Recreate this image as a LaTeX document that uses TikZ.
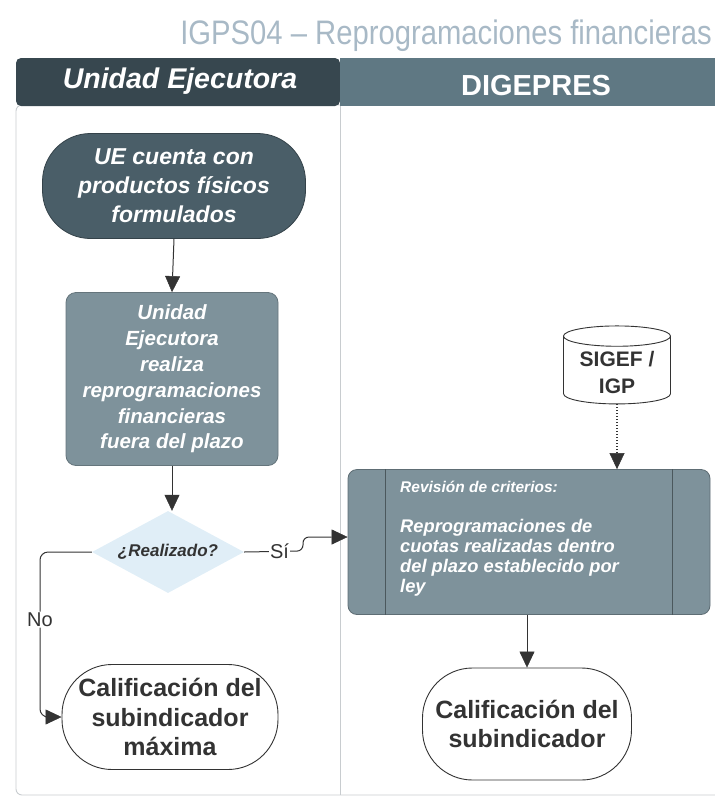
\documentclass[tikz,border=0pt]{standalone}
\usepackage{fontspec}
\setmainfont{Liberation Sans}
\newfontfamily\titlefont[FakeStretch=0.86]{Liberation Sans}
\usetikzlibrary{arrows.meta,shapes.geometric,calc}
\definecolor{hdrdark}{HTML}{37474F}
\definecolor{hdrmid}{HTML}{5F7883}
\definecolor{startfill}{HTML}{4A5E68}
\definecolor{procfill}{HTML}{7E929B}
\definecolor{diafill}{HTML}{E0EEF7}
\definecolor{titlecol}{HTML}{A8B9C6}
\definecolor{txtdark}{HTML}{333333}
\definecolor{lanegray}{HTML}{C8CCCF}
\tikzset{bigtip/.tip={Triangle[length=16pt,width=15pt,fill=txtdark,line width=0.5pt]}}
\begin{document}
\begin{tikzpicture}[x=1pt,y=1pt,
  arr/.style={draw=txtdark,line width=1pt,-bigtip},
  startbox/.style={draw=startfill!70!black,line width=0.8pt,fill=startfill,rounded corners=48pt,
     minimum width=263pt,minimum height=105pt,align=center,text=white,
     font=\fontsize{23}{29}\selectfont\bfseries\itshape},
  procbox/.style={draw=procfill!80!black,line width=0.8pt,fill=procfill,rounded corners=10pt,
     minimum width=212pt,minimum height=173pt,align=center,text=white,
     font=\fontsize{20.5}{25.8}\selectfont\bfseries\itshape},
  endbox/.style={draw=txtdark,line width=0.9pt,fill=white,rounded corners=50pt,
     align=center,text=txtdark,font=\fontsize{25}{29.5}\selectfont\bfseries},
  lbl/.style={fill=white,inner sep=1pt,text=txtdark,font=\fontsize{20}{22}\selectfont}]
\useasboundingbox (0,0) rectangle (715,-801);
% title
\node (title) at (446,-36) {\titlefont\fontsize{34}{38}\selectfont\color{titlecol}IGPS04 – Reprogramaciones financieras};
% pool
\draw[lanegray,line width=0.9pt,rounded corners=6pt] (715,-105) -- (16,-105) -- (16,-795) -- (720,-795);
\draw[lanegray,line width=0.9pt] (340,-105) -- (340,-795);
\fill[hdrdark,rounded corners=5pt] (340,-58) -- (16,-58) -- (16,-106) -- (340,-106) -- cycle;
\fill[hdrmid] (340,-58) rectangle (715,-106);
\node[text=white,font=\fontsize{28.5}{32}\selectfont\bfseries\itshape] (h1) at (180,-81) {Unidad Ejecutora};
\node[text=white,font=\fontsize{29}{32}\selectfont\bfseries] (h2) at (536,-86) {DIGEPRES};
% nodes
\node[startbox] (start) at (174,-186) {UE cuenta con\\productos físicos\\formulados};
\node[procbox] (proc) at (172,-379) {Unidad\\Ejecutora\\realiza\\reprogramaciones\\financieras\\fuera del plazo};
\node[diamond,aspect=1.9,fill=diafill,minimum width=152pt,minimum height=82pt,inner sep=0pt,
      text=txtdark,font=\fontsize{17}{19}\selectfont\bfseries\itshape] (dia) at (168,-552) {¿Realizado?};
\node[endbox,minimum width=216pt,minimum height=105pt] (endL) at (170,-717) {Calificación del\\subindicador\\máxima};
\node[cylinder,shape border rotate=90,aspect=0.25,draw=txtdark,line width=0.9pt,fill=white,
      minimum width=107pt,minimum height=78pt,align=center,text=txtdark,
      font=\fontsize{21}{27}\selectfont\bfseries] (cyl) at (617,-372) {SIGEF /\\IGP};
\node[draw=procfill!75!black,line width=0.8pt,fill=procfill,rounded corners=9pt,
      minimum width=362pt,minimum height=145pt] (rev) at (529,-542) {};
\draw[procfill!60!black,line width=0.8pt] ($(rev.north west)+(38,0)$) -- ($(rev.south west)+(38,0)$);
\draw[procfill!60!black,line width=0.8pt] ($(rev.north east)+(-38,0)$) -- ($(rev.south east)+(-38,0)$);
\node[anchor=north west,align=left,text=white,inner sep=0pt,
      font=\fontsize{18.3}{20}\selectfont\bfseries\itshape] (revtxt) at (400,-481)
  {{\fontsize{15.5}{20}\selectfont Revisión de criterios:}\\[20pt]Reprogramaciones de\\cuotas realizadas dentro\\del plazo establecido por\\ley};
\node[endbox,minimum width=209pt,minimum height=112pt] (endR) at (527,-724) {Calificación del\\subindicador};
% connectors
\draw[arr] (start.south) -- (proc.north);
\draw[arr] (proc.south) -- (proc.south |- dia.north);
\coordinate (sibend) at (303,-551);
\coordinate (sitop) at (303,-537);
\draw[arr,rounded corners=6pt] (dia.east) -- node[lbl,pos=0.6] (si) {Sí} (sibend) -- (sitop) -- (sitop -| rev.west);
\coordinate (nobend) at (40,-552);
\draw[arr,rounded corners=8pt] (dia.west) -- (nobend) -- node[lbl,pos=0.41] (no) {No} (nobend |- endL.west) -- (endL.west);
\draw[arr,dotted,line width=1.2pt] (cyl.south) -- (cyl.south |- rev.north);
\draw[arr] (rev.south -| endR.north) -- (endR.north);
\end{tikzpicture}
\end{document}
